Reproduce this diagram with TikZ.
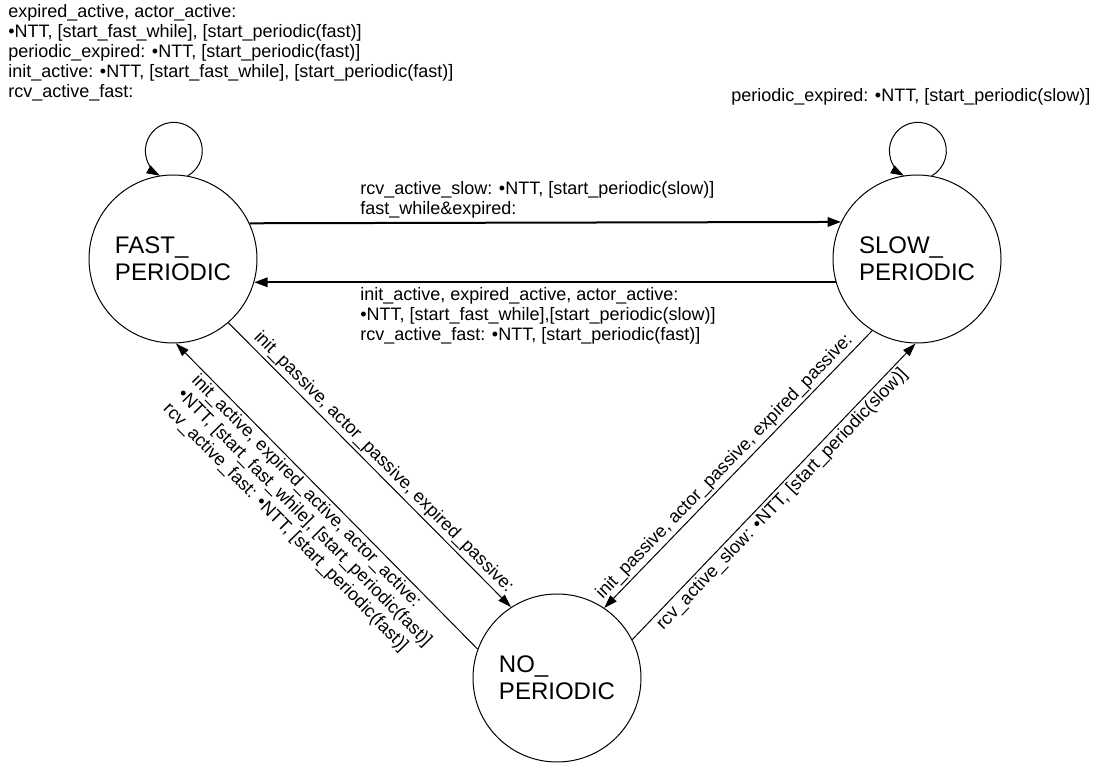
\documentclass[tikz,border=0pt]{standalone}
\usepackage{fontspec}
\setmainfont{Liberation Sans}
\usetikzlibrary{arrows.meta}
\tikzset{
  state/.style={circle, draw, line width=0.75pt, minimum size=126pt, inner sep=0pt,
    font=\fontsize{18}{20.25}\selectfont, align=left},
  lbl/.style={font=\fontsize{13.5}{15}\selectfont, align=left, inner sep=2pt},
  freelbl/.style={font=\fontsize{13.5}{15}\selectfont, align=left, inner sep=0pt},
  arr/.style={line width=0.75pt, -{Triangle[length=10pt,width=6.5pt]}},
  rarr/.style={line width=0.75pt, {Triangle[length=10pt,width=6.5pt]}-},
  thickarr/.style={line width=1.5pt, -{Triangle[length=10pt,width=7pt]}}
}
\begin{document}
\begin{tikzpicture}[x=0.75pt, y=0.75pt]
\useasboundingbox[fill=white] (0,0) rectangle (1106,763);
\node[state] (F) at (173,504) {FAST\_\\PERIODIC};
\node[state] (S) at (917,504) {SLOW\_\\PERIODIC};
\node[state] (N) at (557,85) {NO\_\\PERIODIC};

% self loops
\draw[arr] (F.80) arc[start angle=-61, end angle=241, radius=28.5];
\draw[arr] (S.80) arc[start angle=-61, end angle=241, radius=28.5];

% horizontal
\draw[thickarr] (F.25.4) -- (S.154.6);
\draw[thickarr] (S.196.6) -- (F.-16.6);

% diagonals
\draw[arr] (F.-49) -- node[lbl, sloped, above, pos=0.52] (l1) {init\_passive, actor\_passive, expired\_passive:} (N.123);
\draw[rarr] (F.-88) -- node[lbl, sloped, below, pos=0.5] (l2) {init\_active, expired\_active, actor\_active:\\•NTT, [start\_fast\_while], [start\_periodic(fast)]\\rcv\_active\_fast: •NTT, [start\_periodic(fast)]} (N.160);
\draw[rarr] (N.56) -- node[lbl, sloped, above, pos=0.48] (l3) {init\_passive, actor\_passive, expired\_passive:} (S.238);
\draw[arr] (N.27) -- node[lbl, sloped, below, pos=0.5] (l4) {rcv\_active\_slow: •NTT, [start\_periodic(slow)]} (S.-91);

% free labels
\node[freelbl, anchor=south west] (l5) at (360,544) {rcv\_active\_slow: •NTT, [start\_periodic(slow)]\\fast\_while\&expired:};
\node[freelbl, anchor=north west] (l6) at (360,476) {init\_active, expired\_active, actor\_active:\\•NTT, [start\_fast\_while],[start\_periodic(slow)]\\rcv\_active\_fast: •NTT, [start\_periodic(fast)]};
\node[freelbl, anchor=north west] (l7) at (8,759) {expired\_active, actor\_active:\\•NTT, [start\_fast\_while], [start\_periodic(fast)]\\periodic\_expired: •NTT, [start\_periodic(fast)]\\init\_active: •NTT, [start\_fast\_while], [start\_periodic(fast)]\\rcv\_active\_fast:};
\node[freelbl, anchor=north west] (l8) at (731,675) {periodic\_expired: •NTT, [start\_periodic(slow)]};
\end{tikzpicture}
\end{document}
